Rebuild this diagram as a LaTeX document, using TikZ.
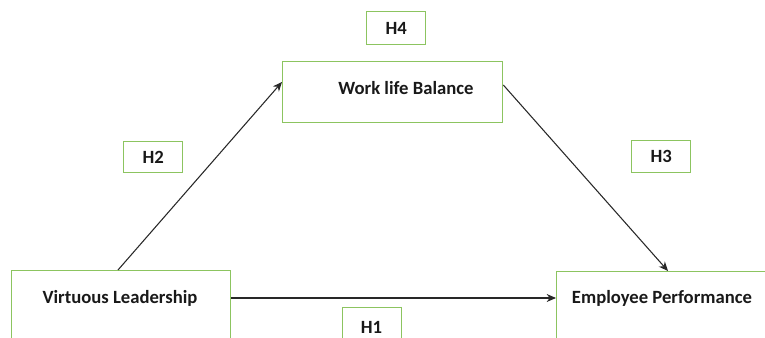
\documentclass[tikz,border=0pt]{standalone}
\usepackage{fontspec}
\setmainfont{Carlito}
\usetikzlibrary{arrows.meta}
\definecolor{boxgreen}{RGB}{140,196,96}
\definecolor{arrowgray}{RGB}{40,40,40}
\tikzset{
  box/.style={draw=boxgreen, line width=1pt, fill=white, inner sep=0pt, rectangle},
  lbl/.style={font=\bfseries\fontsize{14}{16}\selectfont, text=black!90, inner sep=0pt},
  arr/.style={draw=arrowgray, line width=0.8pt, -{Stealth[length=7pt,width=6pt]}}
}
\begin{document}
\begin{tikzpicture}[x=0.75pt,y=-0.75pt]
\useasboundingbox (0,0) rectangle (765,338);
\clip (0,0) rectangle (765,338);
% boxes
\node[box, minimum width=219*0.75pt, minimum height=100*0.75pt, anchor=north west] (vl) at (11,270) {};
\node[box, minimum width=230*0.75pt, minimum height=100*0.75pt, anchor=north west] (ep) at (556,271) {};
\node[box, minimum width=220*0.75pt, minimum height=61*0.75pt, anchor=north west] (wlb) at (282,61) {};
\node[box, minimum width=59*0.75pt, minimum height=33*0.75pt, anchor=north west] (h4) at (366,11) {};
\node[box, minimum width=59*0.75pt, minimum height=31*0.75pt, anchor=north west] (h2) at (123,141) {};
\node[box, minimum width=59*0.75pt, minimum height=32*0.75pt, anchor=north west] (h3) at (631,140) {};
\node[box, minimum width=59*0.75pt, minimum height=45*0.75pt, anchor=north west] (h1) at (342,307) {};
% texts
\node[lbl] (vlt) at (120,298) {Virtuous Leadership};
\node[lbl] (ept) at (662,298) {Employee Performance};
\node[lbl] (wlbt) at (406,88) {Work life Balance};
\node[lbl] (h4t) at (h4.center) {H4};
\node[lbl] (h2t) at (h2.center) {H2};
\node[lbl] (h3t) at (h3.center) {H3};
\node[lbl] (h1t) at (371.5,327) {H1};
% arrows
\coordinate (a1s) at ([xshift=107*0.75pt]vl.north west);
\coordinate (a1e) at ([yshift=-21*0.75pt]wlb.north west);
\draw[arr] (a1s) -- (a1e);
\coordinate (a2s) at ([yshift=-24*0.75pt]wlb.north east);
\coordinate (a2e) at ([xshift=112*0.75pt]ep.north west);
\draw[arr] (a2s) -- (a2e);
\coordinate (a3s) at ([yshift=-28*0.75pt]vl.north east);
\coordinate (a3e) at ([yshift=-27*0.75pt]ep.north west);
\draw[arr] (a3s) -- (a3e);
\end{tikzpicture}
\end{document}
